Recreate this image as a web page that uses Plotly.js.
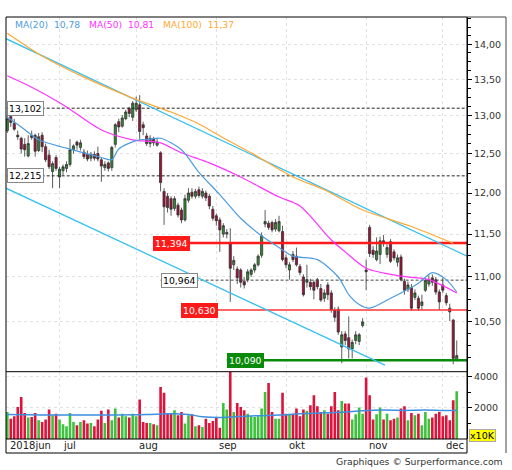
<!DOCTYPE html>
<html>
<head>
<meta charset="utf-8">
<script src="https://cdn.plot.ly/plotly-3.0.1.min.js"></script>
<style>
html, body { margin: 0; padding: 0; background: #fff; }
#plot { width: 512px; height: 470px; }
</style>
</head>
<body>
<div id="plot"></div>
<script>
// daily candles, 11 jun 2018 -> 7 dec 2018 (one entry per trading day)
var open = [12.80,12.99,12.90,12.74,12.70,12.62,12.47,12.74,12.74,12.54,
  12.74,12.59,12.48,12.27,12.45,12.20,12.28,12.31,12.36,12.55,
  12.65,12.58,12.52,12.49,12.44,12.49,12.50,12.42,12.32,12.38,
  12.32,12.62,12.92,12.86,12.96,13.10,12.98,13.08,13.15,12.88,
  12.73,12.63,12.69,12.61,12.51,12.02,11.96,11.93,11.81,11.85,
  11.79,11.67,11.91,12.01,11.96,12.04,11.96,12.00,11.96,11.80,
  11.72,11.67,11.50,11.50,11.40,11.14,11.09,11.08,10.95,10.97,
  11.03,11.08,11.14,11.25,11.62,11.63,11.64,11.56,11.54,11.53,
  11.22,11.08,11.26,11.24,11.12,11.00,10.94,10.94,10.94,10.97,
  10.87,10.76,10.91,10.82,10.63,10.64,10.23,10.37,10.33,10.21,
  10.30,10.29,10.46,11.08,11.58,11.31,11.20,11.26,11.42,11.26,
  11.41,11.29,11.17,11.23,10.95,10.86,10.88,10.77,10.76,10.68,
  10.85,10.92,10.99,10.97,10.83,10.91,10.79,10.65,10.52,10.10];
var high = [13.01,13.04,12.96,12.80,12.72,12.70,12.74,12.80,12.76,12.77,
  12.78,12.63,12.55,12.40,12.48,12.33,12.36,12.40,12.69,12.62,
  12.67,12.68,12.56,12.54,12.52,12.53,12.59,12.45,12.40,12.40,
  12.60,12.90,12.96,13.01,13.08,13.12,13.20,13.26,13.28,12.92,
  12.77,12.74,12.72,12.70,12.53,12.06,12.00,11.96,11.96,11.88,
  11.82,11.98,12.06,12.06,12.05,12.08,12.06,12.03,11.99,11.84,
  11.75,11.70,11.63,11.56,11.57,11.24,11.12,11.10,11.00,11.09,
  11.10,11.16,11.26,11.52,11.79,11.66,11.66,11.68,11.72,11.60,
  11.26,11.17,11.30,11.34,11.15,11.03,11.14,10.98,10.96,10.99,
  10.92,10.86,10.94,10.85,10.66,10.67,10.40,10.40,10.56,10.31,
  10.40,10.38,10.54,11.20,11.61,11.36,11.46,11.47,11.49,11.38,
  11.44,11.32,11.26,11.26,10.98,10.95,10.92,10.86,10.79,10.80,
  10.99,11.02,11.03,11.00,10.86,10.99,10.82,10.70,10.53,10.30];
var low = [12.77,12.85,12.80,12.68,12.50,12.46,12.45,12.68,12.46,12.52,
  12.52,12.39,12.30,12.06,12.28,12.06,12.22,12.26,12.33,12.50,
  12.55,12.54,12.43,12.40,12.40,12.41,12.40,12.14,12.28,12.27,
  12.28,12.58,12.78,12.84,12.94,12.98,12.93,13.05,12.68,12.74,
  12.60,12.58,12.60,12.59,12.02,11.61,11.76,11.72,11.78,11.70,
  11.63,11.65,11.88,11.93,11.93,11.94,11.93,11.90,11.80,11.66,
  11.60,11.29,11.46,11.45,10.72,11.08,10.92,10.88,10.87,10.94,
  11.00,11.05,11.12,11.22,11.58,11.55,11.52,11.53,11.52,11.18,
  11.10,10.97,11.17,11.12,11.02,10.78,10.88,10.85,10.75,10.86,
  10.72,10.72,10.74,10.60,10.50,10.36,10.06,10.25,10.11,10.11,
  10.26,10.25,10.44,10.85,11.23,11.22,11.18,11.15,11.35,11.22,
  11.16,11.19,11.12,10.95,10.80,10.83,10.62,10.74,10.62,10.63,
  10.83,10.89,10.90,10.80,10.63,10.82,10.68,10.51,10.05,10.08];
var close = [12.96,12.91,12.82,12.72,12.56,12.55,12.63,12.71,12.53,12.72,
  12.59,12.42,12.33,12.37,12.31,12.30,12.33,12.36,12.55,12.60,
  12.61,12.64,12.46,12.43,12.49,12.44,12.43,12.34,12.36,12.31,
  12.58,12.88,12.85,12.97,13.05,13.03,13.17,13.17,12.79,12.84,
  12.63,12.70,12.64,12.65,12.13,11.83,11.82,11.80,11.93,11.73,
  11.67,11.93,12.00,11.96,12.02,11.97,12.02,11.94,11.84,11.69,
  11.66,11.55,11.60,11.52,11.10,11.19,10.99,10.94,10.91,11.06,
  11.08,11.14,11.24,11.48,11.65,11.58,11.55,11.64,11.65,11.20,
  11.14,11.14,11.20,11.14,11.05,10.80,10.97,10.89,10.85,10.89,
  10.74,10.82,10.80,10.63,10.55,10.39,10.36,10.30,10.21,10.28,
  10.36,10.36,10.50,11.06,11.27,11.26,11.30,11.42,11.40,11.34,
  11.18,11.22,11.22,10.97,10.85,10.91,10.65,10.82,10.65,10.72,
  10.96,10.97,10.94,10.83,10.72,10.85,10.71,10.61,10.11,10.14];
// volume in units of 10K
var volume = [1740,1310,1460,2060,2710,1680,1380,1420,1680,1200,
  1100,1250,1890,1530,1630,1250,950,820,1680,1100,
  880,1100,1200,990,1030,820,1250,1810,1030,1890,
  1200,1960,1380,1630,1460,1380,1630,1460,2540,1100,
  1030,1030,950,880,3350,2970,1630,1680,1850,1530,
  1740,990,1530,1590,820,880,770,1310,1030,1160,
  1420,730,2320,1890,4320,1740,2320,2060,1850,1630,
  1460,1420,1460,1960,3030,3610,1740,1310,1310,2970,
  1630,1630,1630,1960,1460,1890,1810,2170,2820,2110,
  1740,1850,1630,2110,3030,1850,2450,2280,2280,1250,
  1590,2020,1630,3960,2820,1250,1590,2020,1250,1630,
  1200,1310,1380,1960,2110,1200,1680,1530,1630,880,
  1740,1310,1380,1630,1740,1460,1530,1200,2500,3080];

// first trading day of each month (index into the arrays above)
var monthIdx = [0, 15, 37, 60, 80, 103, 125];
var monthNames = ['2018jun', 'jul', 'aug', 'sep', 'okt', 'nov', 'dec'];

// moving averages
var ma20Idx = [0, 4, 9, 17, 27, 30, 32, 37, 41, 44, 50, 55, 61, 67, 72, 78, 82, 89, 95, 98, 101, 104, 110, 118, 122, 126, 129];
var ma20 = [12.98, 12.85, 12.68, 12.57, 12.45, 12.42, 12.56, 12.67, 12.69, 12.70, 12.55, 12.26, 11.98, 11.69, 11.51, 11.34, 11.24, 11.20, 11.00, 10.80, 10.69, 10.65, 10.76, 10.93, 11.05, 10.97, 10.83];
var ma50Idx = [0, 7, 16, 27, 36, 44, 50, 58, 67, 78, 84, 93, 97, 103, 113, 121, 129];
var ma50 = [13.55, 13.39, 13.15, 12.81, 12.68, 12.64, 12.51, 12.38, 12.20, 11.95, 11.84, 11.43, 11.29, 11.10, 11.01, 10.97, 10.82];
var ma100Idx = [0, 10, 22, 36, 47, 55, 63, 70, 82, 91, 102, 116, 128];
var ma100 = [14.16, 13.83, 13.53, 13.24, 13.05, 12.89, 12.68, 12.51, 12.20, 12.04, 11.79, 11.59, 11.39];
var maNames = ['MA(20)', 'MA(50)', 'MA(100)'];
var maLast = [10.78, 10.81, 11.37];

var volMaIdx = [0, 10, 20, 30, 40, 46, 52, 56, 62, 66, 72, 78, 84, 90, 96, 102, 108, 114, 120, 125, 129];
var volMa = [1570, 1550, 1540, 1540, 1570, 1620, 1580, 1430, 1380, 1440, 1500, 1540, 1620, 1680, 1720, 1820, 1860, 1840, 1860, 1830, 1830];

// trend channel (two straight lines)
var chanUpIdx = [-0.37, 131.95];
var chanUp = [14.08, 11.24];
var chanLoIdx = [-0.37, 108.4];
var chanLo = [12.06, 10.04];

// support / resistance levels
var levels = [13.102, 12.215, 11.394, 10.964, 10.630, 10.090];

var FONT = 'DejaVu Sans, Verdana, sans-serif';
var XEND = 131.95;
var levelStyle = [
  {from: -0.17, line: '#222', width: 1, dash: '3px,2px', bg: '#fff', fg: '#000', border: '#888'},
  {from: -0.17, line: '#222', width: 1, dash: '3px,2px', bg: '#fff', fg: '#000', border: '#888'},
  {from: 41.8, line: '#ff1a1a', width: 2.5, dash: 'solid', bg: '#ff1a1a', fg: '#fff', border: '#ff1a1a'},
  {from: 44.0, line: '#444', width: 1, dash: '3px,2px', bg: '#fff', fg: '#000', border: '#888'},
  {from: 49.8, line: '#ff3333', width: 1.3, dash: 'solid', bg: '#ff1a1a', fg: '#fff', border: '#ff1a1a'},
  {from: 63.0, line: '#0a8a0a', width: 2.5, dash: 'solid', bg: '#0a8a0a', fg: '#fff', border: '#0a8a0a'}
];
var maColors = ['#4d9de0', '#ff33ff', '#ffa833'];

function fmt(v, d) { return v.toFixed(d).replace('.', ','); }

var idx = close.map(function (c, i) { return i; });

var data = [];

levels.forEach(function (lv, k) {
  var s = levelStyle[k];
  data.push({
    x: [s.from, XEND], y: [lv, lv], type: 'scatter', mode: 'lines',
    line: {color: s.line, width: s.width, dash: s.dash}, hoverinfo: 'skip'
  });
});

data.push({
  x: chanUpIdx, y: chanUp, type: 'scatter', mode: 'lines',
  line: {color: '#38c0f0', width: 1.3}, hoverinfo: 'skip'
});
data.push({
  x: chanLoIdx, y: chanLo, type: 'scatter', mode: 'lines',
  line: {color: '#38c0f0', width: 1.3}, hoverinfo: 'skip'
});

[[ma100Idx, ma100], [ma50Idx, ma50], [ma20Idx, ma20]].forEach(function (m, k) {
  data.push({
    x: m[0], y: m[1], type: 'scatter', mode: 'lines',
    line: {color: maColors[2 - k], width: 1.2, shape: 'spline', smoothing: 0.8}, hoverinfo: 'skip'
  });
});

data.push({
  type: 'candlestick', x: idx, open: open, high: high, low: low, close: close,
  xaxis: 'x', yaxis: 'y', whiskerwidth: 0,
  increasing: {line: {color: '#333', width: 0.8}, fillcolor: '#2e8b2e'},
  decreasing: {line: {color: '#333', width: 0.8}, fillcolor: '#a50d35'}
});

data.push({
  type: 'bar', x: idx, y: volume, xaxis: 'x', yaxis: 'y2',
  marker: {color: close.map(function (c, i) { return c >= open[i] ? '#3cc23c' : '#dc143c'; }), line: {width: 0}},
  hoverinfo: 'skip'
});
data.push({
  x: volMaIdx, y: volMa, xaxis: 'x', yaxis: 'y2', type: 'scatter', mode: 'lines',
  line: {color: '#3d8fe0', width: 1.5, shape: 'spline'}, hoverinfo: 'skip'
});

var priceTicks = [10.5, 11, 11.5, 12, 12.5, 13, 13.5, 14];
var minorTicks = [];
for (var t = 10.0; t <= 14.4; t += 0.125) {
  if (Math.abs(t * 2 - Math.round(t * 2)) > 1e-6) minorTicks.push(t);
}

// frame rows: price panel 17..371.7 px, volume 371.7..439, month row 439..453
var split = (439 - 371.7) / 422;
var rowBottom = (439 - 453) / 422;

var annotations = [];
levels.forEach(function (lv, k) {
  var s = levelStyle[k];
  annotations.push({
    xref: 'x', yref: 'y', x: s.from, y: Math.log10(lv), xanchor: 'left', yanchor: 'middle',
    text: fmt(lv, 3), showarrow: false, font: {family: FONT, size: 9.3, color: s.fg},
    bgcolor: s.bg, bordercolor: s.border, borderwidth: 1, borderpad: 1
  });
});

var legendText = maNames.map(function (n, k) {
  return '<span style="color:' + maColors[k] + '">' + n + '\u00a0\u00a0' + fmt(maLast[k], 2) + '</span>';
}).join('\u00a0\u00a0\u00a0');
annotations.push({
  xref: 'paper', yref: 'paper', x: (12.5 - 6) / 461, y: (439 - 24.5) / 422,
  xanchor: 'left', yanchor: 'middle', text: legendText, showarrow: false,
  font: {family: FONT, size: 9.2}
});

monthIdx.forEach(function (m, k) {
  annotations.push({
    xref: 'x', yref: 'paper', x: m, y: (439 - 446) / 422, xanchor: 'left', yanchor: 'middle',
    xshift: 1, text: monthNames[k], showarrow: false, font: {family: FONT, size: 10, color: '#222'}
  });
});

annotations.push({
  xref: 'paper', yref: 'paper', x: (468.5 - 6) / 461, y: (439 - 435.5) / 422,
  xanchor: 'left', yanchor: 'middle', text: 'x10K', showarrow: false,
  font: {family: FONT, size: 9.5, color: '#000'}, bgcolor: '#ffff00', bordercolor: '#aaa', borderwidth: 1, borderpad: 0
});
annotations.push({
  xref: 'paper', yref: 'paper', x: (505 - 6) / 461, y: (439 - 461) / 422,
  xanchor: 'right', yanchor: 'middle', text: 'Graphiques \u00a9 Surperformance.com', showarrow: false,
  font: {family: FONT, size: 9.3, color: '#333'}
});

var shapes = [
  {type: 'rect', xref: 'paper', yref: 'paper', x0: 0, x1: 1, y0: rowBottom, y1: 1, line: {color: '#000', width: 1}},
  {type: 'line', xref: 'paper', yref: 'paper', x0: 0, x1: 1, y0: 0, y1: 0, line: {color: '#000', width: 1}},
  {type: 'line', xref: 'paper', yref: 'paper', x0: 0, x1: 1, y0: split, y1: split, line: {color: '#000', width: 1}},
  {type: 'line', xref: 'paper', yref: 'paper', x0: 1, x1: (506 - 6) / 461, y0: 1, y1: 1, line: {color: '#444', width: 1}},
  {type: 'line', xref: 'paper', yref: 'paper', x0: (506 - 6) / 461, x1: (506 - 6) / 461, y0: rowBottom, y1: 1, line: {color: '#444', width: 1}}
];

var layout = {
  width: 512, height: 470,
  margin: {l: 6, r: 45, t: 17, b: 31, pad: 0},
  paper_bgcolor: '#fff', plot_bgcolor: '#fff',
  showlegend: false,
  font: {family: FONT, size: 9.5, color: '#333'},
  bargap: 0.25,
  boxgap: 0.12,
  xaxis: {
    range: [-0.37, XEND], anchor: 'y2', tickmode: 'array', tickvals: monthIdx.slice(1),
    showticklabels: false, ticks: '', showgrid: true, gridcolor: '#e2e2e2', griddash: 'dot',
    zeroline: false, showline: false, rangeslider: {visible: false}, fixedrange: true
  },
  yaxis: {
    domain: [split, 1], type: 'log', range: [Math.log10(9.972), Math.log10(14.40)],
    side: 'right', anchor: 'x', tickmode: 'array', tickvals: priceTicks,
    ticktext: priceTicks.map(function (v) { return fmt(v, 2); }),
    ticks: 'outside', ticklen: 4, tickcolor: '#000', showline: true, linecolor: '#000',
    showgrid: true, gridcolor: '#e2e2e2', griddash: 'dot', zeroline: false,
    minor: {tickvals: minorTicks, ticks: 'outside', ticklen: 3, tickcolor: '#000', showgrid: false},
    tickfont: {family: FONT, size: 9.5, color: '#333'}, fixedrange: true
  },
  yaxis2: {
    domain: [0, split], range: [0, 4330], side: 'right', anchor: 'x',
    tickmode: 'array', tickvals: [2000, 4000], ticktext: ['2000', '4000'],
    ticks: 'outside', ticklen: 4, tickcolor: '#000', showline: true, linecolor: '#000',
    showgrid: true, gridcolor: '#e2e2e2', griddash: 'dot', zeroline: false,
    minor: {tickvals: [1000, 3000], ticks: 'outside', ticklen: 3, tickcolor: '#000', showgrid: false},
    tickfont: {family: FONT, size: 9.5, color: '#333'}, fixedrange: true
  },
  annotations: annotations,
  shapes: shapes
};

Plotly.newPlot('plot', data, layout, {displayModeBar: false, staticPlot: true});
</script>
</body>
</html>
